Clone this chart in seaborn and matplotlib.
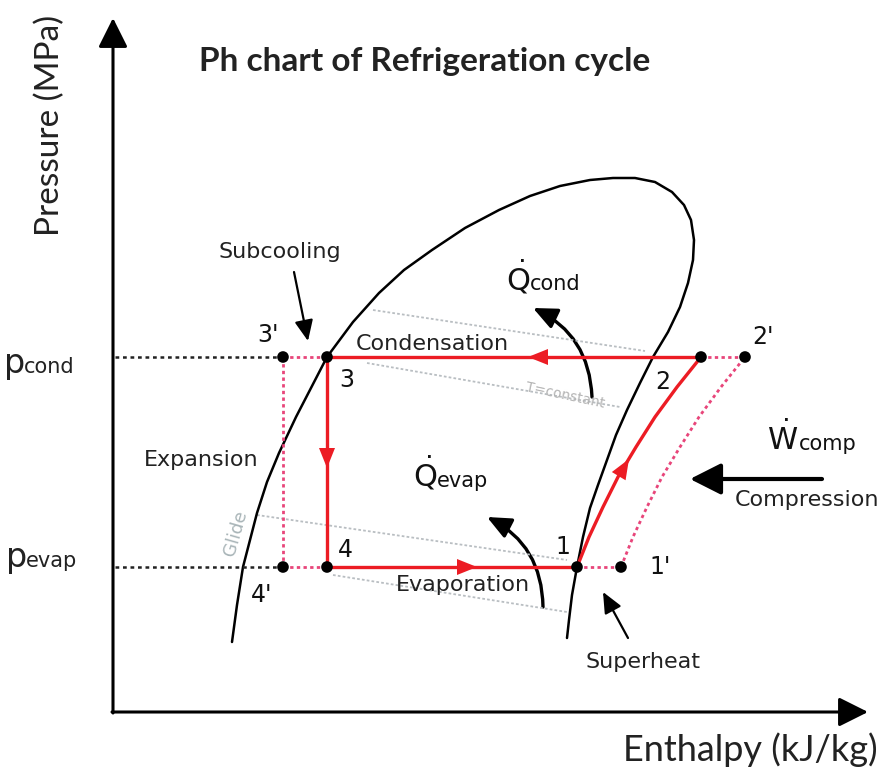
import numpy as np
import matplotlib.pyplot as plt
import seaborn as sns
from matplotlib.patches import FancyArrowPatch

sns.set_theme(style='white')
plt.rcParams['font.family'] = ['DejaVu Sans']

# schematic coordinates: enthalpy to the right, pressure drawn upward (axis inverted)
dome_h = [232, 237, 243, 250, 257, 267, 279, 296, 327, 353, 379, 404, 432, 465, 499, 530, 560, 590, 613,
          635, 655, 672, 684, 691, 694, 693, 688, 680, 668, 653, 640, 627, 616, 607, 598, 590, 583, 577,
          572, 569, 567]
dome_p = [642, 605, 567, 540, 513, 482, 453, 417, 357, 322, 293, 270, 250, 228, 210, 196, 186, 180, 178,
          178, 182, 192, 205, 220, 240, 260, 283, 307, 332, 357, 383, 410, 435, 460, 485, 508, 537, 567,
          595, 620, 638]

p_cond = 357
p_evap = 567
state_names = ["1", "2", "3", "4", "1'", "2'", "3'", "4'"]
state_h = [577, 701, 327, 327, 621, 745, 283, 283]
state_p = [p_evap, p_cond, p_cond, p_evap, p_evap, p_cond, p_cond, p_evap]

comp_h = [577, 589, 603, 618, 636, 655, 677, 701]
comp_p = [567, 537, 507, 477, 447, 417, 387, 357]
comp2_h = [621, 633, 647, 662, 680, 699, 721, 745]
comp2_p = [567, 537, 507, 477, 447, 417, 387, 357]

iso_h = [(373, 645), (367, 620), (257, 567), (333, 567)]
iso_p = [(310, 351), (363, 407), (515, 560), (575, 612)]

red = '#ec1c24'
pink = '#e8457a'

fig = plt.figure(figsize=(8.81, 7.8), dpi=100)
ax = fig.add_axes([0, 0, 1, 1])

# isotherms
for hh, pp in zip(iso_h, iso_p):
    sns.lineplot(x=list(hh), y=list(pp), ax=ax, sort=False, estimator=None, color='#b9bec2',
                 lw=1.3, linestyle=(0, (1.5, 1.2)), legend=False)

# saturation dome
sns.lineplot(x=dome_h, y=dome_p, ax=ax, sort=False, estimator=None, color='black', lw=1.8, legend=False)

# black dotted pressure levels
for p, h in [(p_cond, state_h[6]), (p_evap, state_h[7])]:
    sns.lineplot(x=[115, h], y=[p, p], ax=ax, sort=False, estimator=None, color='#222222',
                 lw=1.8, linestyle=(0, (1.5, 1.5)), legend=False)

# real cycle (dotted pink)
dot = dict(ax=ax, sort=False, estimator=None, color=pink, lw=2, linestyle=(0, (1.2, 1.2)), legend=False)
sns.lineplot(x=[state_h[6], state_h[2]], y=[p_cond, p_cond], **dot)
sns.lineplot(x=[state_h[6], state_h[7]], y=[p_cond, p_evap], **dot)
sns.lineplot(x=[state_h[7], state_h[3]], y=[p_evap, p_evap], **dot)
sns.lineplot(x=[state_h[0], state_h[4]], y=[p_evap, p_evap], **dot)
sns.lineplot(x=[state_h[1], state_h[5]], y=[p_cond, p_cond], **dot)
sns.lineplot(x=comp2_h, y=comp2_p, **dot)

# ideal cycle (solid red)
sol = dict(ax=ax, sort=False, estimator=None, color=red, lw=2.4, legend=False)
sns.lineplot(x=[state_h[1], state_h[2]], y=[p_cond, p_cond], **sol)
sns.lineplot(x=[state_h[2], state_h[3]], y=[p_cond, p_evap], **sol)
sns.lineplot(x=[state_h[3], state_h[0]], y=[p_evap, p_evap], **sol)
sns.lineplot(x=comp_h, y=comp_p, **sol)

sns.scatterplot(x=state_h, y=state_p, ax=ax, color='black', s=70, zorder=5, edgecolor='none', legend=False)


def head(tip, frm, color=red, size=18):
    ax.annotate('', xy=tip, xytext=frm,
                arrowprops=dict(arrowstyle='-|>,head_length=0.8,head_width=0.32', color=color,
                                lw=0, mutation_scale=size, shrinkA=0, shrinkB=0))


head((528, p_cond), (560, p_cond))
head((327, 468), (327, 430))
head((477, p_evap), (440, p_evap))
head((629, 459), (611, 489))

for n, h, p in zip(state_names, state_h, state_p):
    off = {"1": (-14, -20), "2": (-38, 25), "3": (20, 23), "4": (18, -17),
           "1'": (39, 0), "2'": (18, -20), "3'": (-15, -22), "4'": (-21, 28)}[n]
    ax.text(h + off[0], p + off[1], n, fontsize=17, ha='center', va='center', color='#111111')

# axes arrows
axis_arrow = dict(arrowstyle='-|>,head_length=1.0,head_width=0.5', color='black', lw=2.2,
                  mutation_scale=18, shrinkA=0, shrinkB=0)
ax.annotate('', xy=(113, 18), xytext=(113, 713), arrowprops=axis_arrow)
ax.annotate('', xy=(868, 712), xytext=(112, 712), arrowprops=axis_arrow)

ax.text(425, 62, 'Ph chart of Refrigeration cycle', fontsize=24, fontweight='bold', family='Lato',
        ha='center', va='center', color='#222222')
ax.text(50, 125, 'Pressure (MPa)', fontsize=24, rotation=90, family='Lato',
        ha='center', va='center', color='#222222')
ax.text(878, 750, 'Enthalpy (kJ/kg)', fontsize=26, family='Lato',
        ha='right', va='center', color='#222222')

# pressure level labels
ax.text(4, 373, 'p', fontsize=24, ha='left', va='baseline', color='#222222')
ax.text(24, 373, 'cond', fontsize=15, ha='left', va='baseline', color='#222222')
ax.text(6, 567, 'p', fontsize=24, ha='left', va='baseline', color='#222222')
ax.text(26, 567, 'evap', fontsize=15, ha='left', va='baseline', color='#222222')

lab = dict(fontsize=16, ha='center', va='center', color='#222222')
ax.text(280, 252, 'Subcooling', **lab)
ax.text(432, 344, 'Condensation', **lab)
ax.text(201, 460, 'Expansion', **lab)
ax.text(463, 585, 'Evaporation', **lab)
ax.text(807, 500, 'Compression', **lab)
ax.text(643, 662, 'Superheat', **lab)

ax.text(236, 533, 'Glide', fontsize=13, rotation=74, ha='center', va='center', color='#a9b5b8')
ax.text(565, 395, 'T=constant', fontsize=10, rotation=-12, ha='center', va='center', color='#b4b4b4')

# heat and work symbols
ax.text(518, 290, r'$\dot{\mathrm{Q}}$', fontsize=22, ha='center', va='baseline', color='#111111')
ax.text(530, 290, 'cond', fontsize=15, ha='left', va='baseline', color='#111111')
ax.text(425, 487, r'$\dot{\mathrm{Q}}$', fontsize=22, ha='center', va='baseline', color='#111111')
ax.text(437, 487, 'evap', fontsize=15, ha='left', va='baseline', color='#111111')
ax.text(783, 450, r'$\dot{\mathrm{W}}$', fontsize=22, ha='center', va='baseline', color='#111111')
ax.text(799, 450, 'comp', fontsize=15, ha='left', va='baseline', color='#111111')

blk = dict(arrowstyle='-|>,head_length=0.9,head_width=0.4', color='black', lw=2.4,
           mutation_scale=16, shrinkA=0, shrinkB=0)
ax.add_patch(FancyArrowPatch((592, 397), (533, 308), connectionstyle='arc3,rad=0.3', **blk))
ax.add_patch(FancyArrowPatch((543, 607), (487, 517), connectionstyle='arc3,rad=0.3', **blk))
ax.annotate('', xy=(690, 479), xytext=(822, 479),
            arrowprops=dict(arrowstyle='-|>,head_length=0.95,head_width=0.48', color='black', lw=3,
                            mutation_scale=20, shrinkA=0, shrinkB=0))
ax.annotate('', xy=(294, 272), xytext=(308, 341),
            arrowprops=dict(arrowstyle='<|-,head_length=0.9,head_width=0.4', color='black', lw=1.6,
                            mutation_scale=14, shrinkA=0, shrinkB=0))
ax.annotate('', xy=(603, 592), xytext=(628, 638),
            arrowprops=dict(arrowstyle='-|>,head_length=0.9,head_width=0.4', color='black', lw=1.6,
                            mutation_scale=14, shrinkA=0, shrinkB=0))

ax.set_xlim(0, 881)
ax.set_ylim(780, 0)
ax.axis('off')
fig.savefig('out.png', dpi=100)
